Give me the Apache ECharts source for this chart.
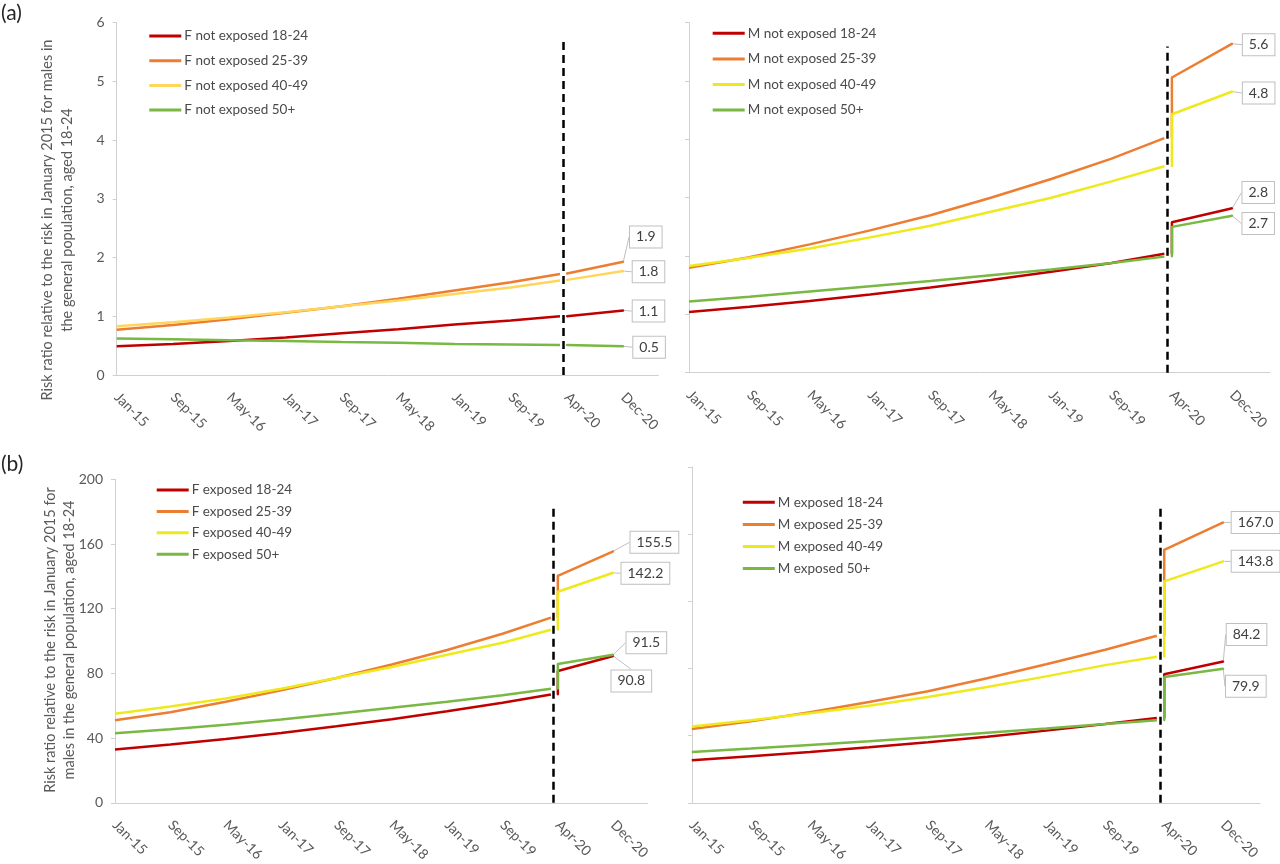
<!DOCTYPE html>
<html>
<head>
<meta charset="utf-8">
<script src="https://cdn.jsdelivr.net/npm/echarts@6/dist/echarts.min.js"></script>
<style>
html,body{margin:0;padding:0;background:#fff;}
#chart{width:1280px;height:864px;}
</style>
</head>
<body>
<div id="chart"></div>
<script>
// ---------- axis / category data ----------
const tickLabels = ['Jan-15','Sep-15','May-16','Jan-17','Sep-17','May-18','Jan-19','Sep-19','Apr-20','Dec-20'];
const tickStep = 8;                       // months between tick labels
const preMonths  = [0, 8, 16, 24, 32, 40, 48, 56, 63];  // Jan-15 ... Mar-20
const postMonths = [64, 64, 72];                         // Mar-20 (jump) ... Dec-20
const breakMonth = 63.4;
const ageGroups = ['18-24', '25-39', '40-49', '50+'];

// ---------- (a) F not exposed ----------
const fNotExp1824Pre = [0.49, 0.53, 0.58, 0.64, 0.71, 0.78, 0.86, 0.93, 1.00];
const fNotExp1824Post = [1.00, 1.00, 1.10];
const fNotExp2539Pre = [0.77, 0.85, 0.95, 1.06, 1.17, 1.30, 1.44, 1.58, 1.72];
const fNotExp2539Post = [1.73, 1.73, 1.93];
const fNotExp4049Pre = [0.83, 0.90, 0.98, 1.07, 1.17, 1.27, 1.38, 1.49, 1.61];
const fNotExp4049Post = [1.62, 1.62, 1.77];
const fNotExp50Pre = [0.62, 0.61, 0.59, 0.58, 0.56, 0.55, 0.53, 0.52, 0.51];
const fNotExp50Post = [0.51, 0.51, 0.49];

// ---------- (a) M not exposed ----------
const mNotExp1824Pre = [1.04, 1.13, 1.23, 1.34, 1.46, 1.59, 1.73, 1.88, 2.04];
const mNotExp1824Post = [2.04, 2.58, 2.82];
const mNotExp2539Pre = [1.80, 1.98, 2.20, 2.44, 2.70, 3.00, 3.32, 3.67, 4.02];
const mNotExp2539Post = [4.02, 5.06, 5.64];
const mNotExp4049Pre = [1.83, 1.97, 2.13, 2.32, 2.52, 2.76, 3.00, 3.28, 3.54];
const mNotExp4049Post = [3.54, 4.43, 4.82];
const mNotExp50Pre = [1.22, 1.30, 1.39, 1.48, 1.57, 1.67, 1.77, 1.88, 1.99];
const mNotExp50Post = [1.99, 2.50, 2.69];

// ---------- (b) F exposed ----------
const fExp1824Pre = [33.0, 36.1, 39.5, 43.2, 47.3, 51.7, 56.6, 61.9, 67.0];
const fExp1824Post = [67.0, 81.5, 90.8];
const fExp2539Pre = [51.0, 56.0, 62.5, 69.5, 77.2, 85.5, 94.5, 104.5, 114.5];
const fExp2539Post = [114.5, 140.3, 155.5];
const fExp4049Pre = [55.0, 59.5, 64.5, 70.5, 77.2, 84.0, 91.5, 99.0, 107.0];
const fExp4049Post = [107.0, 130.5, 142.2];
const fExp50Pre = [43.0, 45.5, 48.3, 51.5, 55.0, 58.7, 62.5, 66.5, 70.5];
const fExp50Post = [70.5, 85.8, 91.5];

// ---------- (b) M exposed ----------
const mExp1824Pre = [25.3, 27.8, 30.3, 33.1, 36.1, 39.4, 43.0, 46.9, 50.5];
const mExp1824Post = [50.5, 76.6, 84.2];
const mExp2539Pre = [44.0, 48.5, 54.0, 60.0, 66.5, 74.2, 82.5, 91.2, 99.5];
const mExp2539Post = [99.5, 150.7, 167.0];
const mExp4049Pre = [45.5, 49.2, 53.3, 57.8, 63.0, 69.0, 75.3, 82.0, 87.0];
const mExp4049Post = [87.0, 131.9, 143.8];
const mExp50Pre = [30.2, 32.3, 34.5, 36.7, 39.1, 41.7, 44.3, 47.0, 49.2];
const mExp50Post = [49.2, 75.0, 79.9];

// ---------- styling ----------
const RED = '#C00000', ORANGE = '#ED7D31', YELLOW = '#EFE91C', LIGHTYELLOW = '#FFD55A', GREEN = '#78B843';
const TXT = '#595959', AXIS = '#D0D0D0';
const FONT = 'Lato, "Open Sans", sans-serif';

const panels = [
  { prefix: 'F not exposed ',
    pre: [fNotExp1824Pre, fNotExp2539Pre, fNotExp4049Pre, fNotExp50Pre],
    post: [fNotExp1824Post, fNotExp2539Post, fNotExp4049Post, fNotExp50Post],
    colors: [RED, ORANGE, LIGHTYELLOW, GREEN],
    grid: { left: 116.7, top: 22.7, width: 541.8, height: 352.3 },
    yMax: 6, yInterval: 1, yLabels: true, dashTop: 5.68,
    legend: { left: 149.3, top: 28, itemGap: 8.7 },
    offsets: [[9.4, 0.7], [6.7, -24.7], [9.4, 0.7], [10, 1]] },
  { prefix: 'M not exposed ',
    pre: [mNotExp1824Pre, mNotExp2539Pre, mNotExp4049Pre, mNotExp50Pre],
    post: [mNotExp1824Post, mNotExp2539Post, mNotExp4049Post, mNotExp50Post],
    colors: [RED, ORANGE, YELLOW, GREEN],
    grid: { left: 689, top: 22.7, width: 581, height: 350 },
    yMax: 6, yInterval: 1, yLabels: false, dashTop: 5.59,
    legend: { left: 712.7, top: 25.3, itemGap: 9.6 },
    offsets: [[10.2, -15.6], [10.6, 1], [10.6, 1.5], [10.2, 7.8]] },
  { prefix: 'F exposed ',
    pre: [fExp1824Pre, fExp2539Pre, fExp4049Pre, fExp50Pre],
    post: [fExp1824Post, fExp2539Post, fExp4049Post, fExp50Post],
    colors: [RED, ORANGE, YELLOW, GREEN],
    grid: { left: 115, top: 479.3, width: 532.8, height: 326.7 },
    yMax: 200, yInterval: 40, yLabels: true, dashTop: 184,
    legend: { left: 156.7, top: 482, itemGap: 5.4 },
    offsets: [[-1.7, 25], [17.3, -9], [8.3, 0.5], [13.3, -12]] },
  { prefix: 'M exposed ',
    pre: [mExp1824Pre, mExp2539Pre, mExp4049Pre, mExp50Pre],
    post: [mExp1824Post, mExp2539Post, mExp4049Post, mExp50Post],
    colors: [RED, ORANGE, YELLOW, GREEN],
    grid: { left: 691.8, top: 467, width: 568.4, height: 337 },
    yMax: 200, yInterval: 40, yLabels: false, dashTop: 176,
    legend: { left: 742.8, top: 494.3, itemGap: 6.1 },
    offsets: [[3.4, -27], [8.4, 0], [8.4, 0], [2.7, 17.7]] }
];

const option = {
  animation: false,
  backgroundColor: '#fff',
  textStyle: { fontFamily: FONT },
  grid: [], xAxis: [], yAxis: [], legend: [], series: [],
  graphic: [
    { type: 'text', left: 1, top: 3, style: { text: '(a)', font: '21px ' + FONT, fill: '#262626' } },
    { type: 'text', left: 1, top: 454, style: { text: '(b)', font: '21px ' + FONT, fill: '#262626' } },
    { type: 'text', x: 57, y: 220, rotation: Math.PI / 2,
      style: { text: 'Risk ratio relative to the risk in January 2015 for males in\nthe general population, aged 18-24',
               font: '14.5px ' + FONT, fill: TXT, align: 'center', verticalAlign: 'middle', lineHeight: 20 } },
    { type: 'text', x: 60, y: 640, rotation: Math.PI / 2,
      style: { text: 'Risk ratio relative to the risk in January 2015 for\nmales in the general population, aged 18-24',
               font: '14.5px ' + FONT, fill: TXT, align: 'center', verticalAlign: 'middle', lineHeight: 19 } }
  ]
};

panels.forEach((p, pi) => {
  option.grid.push(Object.assign({ containLabel: false }, p.grid));
  option.xAxis.push({
    type: 'value', gridIndex: pi, min: 0, max: 77, interval: tickStep,
    axisLine: { lineStyle: { color: AXIS, width: 1 } },
    axisTick: { show: false },
    splitLine: { show: false },
    axisLabel: {
      rotate: -45, margin: 20, color: TXT, fontSize: 14, fontFamily: FONT,
      showMaxLabel: false,
      formatter: v => (v % tickStep === 0 && tickLabels[v / tickStep]) || ''
    }
  });
  option.yAxis.push({
    type: 'value', gridIndex: pi, min: 0, max: p.yMax, interval: p.yInterval,
    axisLine: { show: true, lineStyle: { color: AXIS, width: 1 } },
    axisTick: { show: true, length: 4, lineStyle: { color: AXIS } },
    splitLine: { show: false },
    axisLabel: { show: p.yLabels, color: TXT, fontSize: 14, fontFamily: FONT, margin: 12 }
  });
  const names = ageGroups.map(a => p.prefix + a);
  option.legend.push({
    data: names, orient: 'vertical', left: p.legend.left, top: p.legend.top,
    itemGap: p.legend.itemGap, itemWidth: 32, itemHeight: 3, icon: 'rect', padding: 0,
    selectedMode: false,
    textStyle: { color: '#4a4a4a', fontSize: 13.5, fontFamily: FONT, lineHeight: 16, padding: [0, 0, 0, -2] }
  });
  names.forEach((name, si) => {
    const color = p.colors[si];
    option.series.push({
      type: 'line', name, xAxisIndex: pi, yAxisIndex: pi,
      data: preMonths.map((m, i) => [m, p.pre[si][i]]),
      symbol: 'none', silent: true, color,
      lineStyle: { color, width: 2.5 }, z: 2 + si
    });
    const postData = postMonths.map((m, i) => [m, p.post[si][i]]);
    const last = postData.length - 1;
    postData[last] = { value: postData[last], label: { show: true } };
    const s = {
      type: 'line', name, xAxisIndex: pi, yAxisIndex: pi,
      data: postData, symbol: 'circle', symbolSize: 2, showSymbol: true, silent: true, color,
      itemStyle: { color },
      lineStyle: { color, width: 2.5 }, z: 2 + si,
      label: {
        show: false, position: 'right', distance: 0,
        formatter: prm => prm.value[1].toFixed(1),
        color: '#404040', fontSize: 14, fontFamily: FONT,
        backgroundColor: '#fff', borderColor: '#BFBFBF', borderWidth: 1,
        padding: [4, 6, 3, 6]
      },
      labelLine: { show: true, lineStyle: { color: '#BFBFBF', width: 1 } },
      labelLayout: { dx: p.offsets[si][0] - 1, dy: p.offsets[si][1] }
    };
    if (si === 3) {
      s.markLine = {
        symbol: 'none', silent: true, label: { show: false },
        lineStyle: { color: '#000', width: 2.5, type: [8, 5] },
        data: [[{ coord: [breakMonth, 0] }, { coord: [breakMonth, p.dashTop] }]],
        z: 10
      };
    }
    option.series.push(s);
  });
});

const chart = echarts.init(document.getElementById('chart'), null, { renderer: 'canvas' });
chart.setOption(option);
</script>
</body>
</html>
